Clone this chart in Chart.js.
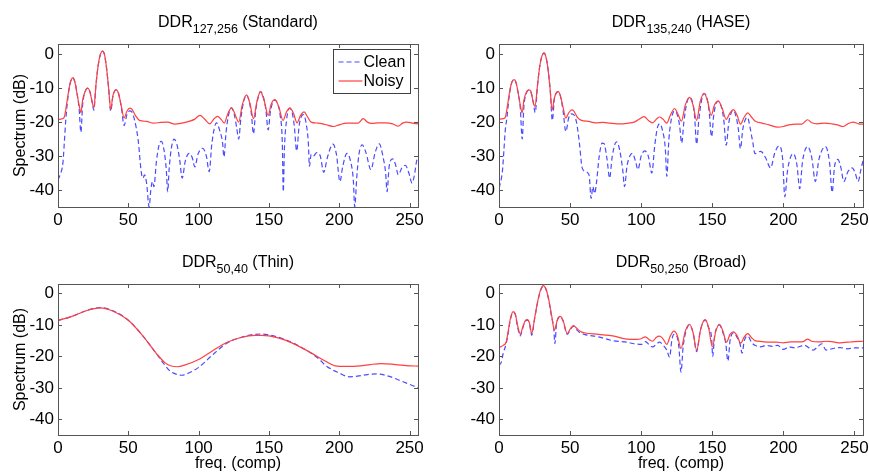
<!DOCTYPE html>
<html>
<head>
<meta charset="utf-8">
<script src="https://cdn.jsdelivr.net/npm/chart.js@4.4.0/dist/chart.umd.min.js"></script>
<style>
  html, body { margin: 0; padding: 0; background: #fff; }
  #wrap { position: relative; width: 869px; height: 473px; overflow: hidden; }
  .cell { position: absolute; }
</style>
</head>
<body>
<div id="wrap">
  <div class="cell" style="left:0;top:0;width:430px;height:240px"><canvas id="cStd"></canvas></div>
  <div class="cell" style="left:430px;top:0;width:439px;height:240px"><canvas id="cHase"></canvas></div>
  <div class="cell" style="left:0;top:240px;width:430px;height:233px"><canvas id="cThin"></canvas></div>
  <div class="cell" style="left:430px;top:240px;width:439px;height:233px"><canvas id="cBroad"></canvas></div>
</div>
<script>
const X_TICKS = [0, 50, 100, 150, 200, 250];
const Y_TICKS = [0, -10, -20, -30, -40];
const SERIES_NAMES = ["Clean", "Noisy"];
const X_LABEL = "freq. (comp)";
const Y_LABEL = "Spectrum (dB)";

const TITLE_STD = ["DDR", "127,256", " (Standard)"];
const TITLE_HASE = ["DDR", "135,240", " (HASE)"];
const TITLE_THIN = ["DDR", "50,40", " (Thin)"];
const TITLE_BROAD = ["DDR", "50,250", " (Broad)"];

// [freq, dB]
const stdClean = [[0,-37],[1.5,-35.5],[3.5,-32],[4.5,-26],[5.5,-19.5],[7,-13],[8.5,-8.8],[10.5,-7],[12,-8.2],[13.5,-11.5],[15,-16],[16.3,-23],[17.5,-15],[19.5,-10.8],[21,-10],[22.5,-10.8],[24,-13.5],[25.5,-16.5],[27,-9],[28.5,-3.5],[30,-0.3],[31.5,0.9],[33,0],[34.5,-4],[36,-10],[37.5,-16.8],[39,-12.5],[40.5,-10.7],[41.5,-10.5],[43,-11.5],[45,-15.5],[47,-21],[49,-17.8],[51,-16.7],[52.5,-17],[54.5,-19.5],[57,-25.3],[59.3,-35],[60.5,-36.5],[61.5,-35.5],[63,-38],[64.8,-45],[66,-40],[67.2,-37.5],[68.2,-39],[70,-31.5],[72,-26.5],[73.5,-25.7],[75.5,-28.5],[77,-34],[78,-40.5],[79,-34],[80.5,-28],[82.5,-25],[84.5,-26.5],[86.5,-31],[88.3,-36.5],[90.5,-31.5],[93.2,-29.2],[95.5,-30.5],[97.3,-33.2],[99.5,-29.5],[102.8,-27.7],[105.5,-30],[107.5,-34.6],[109.5,-26],[112.7,-20.2],[115,-22.5],[117,-26],[118,-30.3],[119.5,-23],[121.5,-17.5],[123.4,-15.8],[125.5,-18],[127,-21.5],[128.5,-25],[130,-19],[132,-14],[134,-12],[136,-14],[137.5,-17.5],[139,-23.5],[140.5,-17],[142.5,-12.5],[144,-11],[146,-12.5],[147.7,-16],[149.5,-22.3],[151,-17],[152.7,-14.2],[154.3,-13.5],[156,-14.5],[158,-18],[159.5,-26],[160.2,-40.5],[161,-28],[162.5,-19.5],[164.5,-16],[166,-16.5],[168,-21],[169.7,-28.5],[171.5,-21],[173.5,-18],[174.5,-17.8],[176.5,-20.5],[178,-26],[178.8,-33],[180,-29.5],[181.5,-30],[184,-29],[186.5,-30],[189,-34.8],[191.5,-30.5],[195.5,-26.5],[198,-29.5],[200.5,-37.5],[202.5,-33],[205.5,-29.2],[208,-31.5],[210,-37],[211,-45],[212.5,-36],[214,-29.5],[216.3,-26.7],[219,-29],[222.5,-34],[225.5,-29],[228.5,-26.4],[231,-30],[233,-35],[234,-40.5],[235.5,-33],[238,-30.8],[240,-32.5],[242,-35.5],[244.5,-33.5],[247,-32.7],[249.5,-35],[251.8,-38],[253.5,-35.5],[255,-31.5],[256,-30.6]];
const stdNoisy = [[0,-19.3],[3,-19],[4.5,-18.5],[6,-15],[7.5,-11],[9,-8],[10.5,-7],[12,-8.2],[13.5,-11.5],[15,-15],[16.3,-17.2],[17.5,-13.5],[19.5,-10.8],[21,-10],[22.5,-10.8],[24,-13.5],[25.5,-15.8],[27,-9],[28.5,-3.5],[30,-0.3],[31.5,0.9],[33,0],[34.5,-4],[36,-10],[37.5,-16.3],[39,-12.3],[40.5,-10.7],[41.5,-10.5],[43,-11.5],[45,-15.2],[47,-18.8],[49,-16.8],[51,-15.9],[52.5,-16.2],[55,-18],[58,-19.5],[63,-19.8],[68,-20.3],[73,-20.1],[78,-20],[83,-20.6],[88,-20.3],[93,-19.8],[97,-19.2],[101,-18],[104,-19],[108,-20.5],[111,-19],[113.5,-18.3],[116,-19.2],[118.3,-20.3],[120.5,-17.8],[123.4,-15.8],[125.5,-17.3],[128.5,-20],[131,-15],[134,-12],[136.5,-14.5],[139,-19],[141.5,-13.8],[144,-11],[146.5,-13.5],[149.5,-18],[151.5,-14.8],[154.3,-13.4],[157,-15.5],[160,-19.5],[162.5,-17],[165,-15.8],[167.5,-17.5],[170,-20.2],[172.5,-18],[175,-17],[177.5,-18.5],[180,-20],[185,-20.3],[190,-20.7],[196,-21.3],[200,-20.8],[205,-20.3],[210,-20.3],[213.5,-20.3],[217,-19],[220,-20],[223,-20.4],[228,-20.2],[233,-20.2],[238,-20.5],[242,-21.2],[245,-20.3],[248,-20],[252,-20.3],[256,-20.5]];

const haseClean = [[0,-39.4],[1.5,-37],[2.5,-34],[3.5,-28],[4.5,-22],[5.5,-19],[7,-13],[8.5,-9],[10.6,-7.5],[12,-8.5],[13.5,-11.5],[15,-16],[16.3,-25],[17.5,-15.5],[19.5,-11.2],[21,-10.6],[22.5,-11.2],[24,-14],[25.5,-17.2],[27,-9.5],[28.5,-4],[30,-0.8],[31.7,0.3],[33,-0.8],[34.5,-4.5],[36,-10.5],[37.5,-19.5],[39,-13],[40.5,-11.3],[41.7,-11],[43,-12],[45,-16.5],[47,-22.8],[49,-18.8],[51,-17.6],[52.5,-17.8],[54.5,-20],[56.5,-26],[58.5,-33.5],[60.5,-34.5],[62.5,-35],[63.5,-36],[64.8,-42.5],[66,-39],[67.3,-41],[68.5,-38],[70.5,-30],[72.5,-26.2],[73.8,-26.3],[76,-31],[77.8,-36.5],[79.5,-30.5],[81.5,-26.5],[82.8,-25.8],[85,-28.5],[87,-34],[88.3,-39],[90,-33],[92,-30],[93.8,-29.2],[96,-31.5],[97.7,-34],[100,-30],[102.5,-28.5],[105,-30],[107.5,-35],[109.5,-27],[111.5,-21.5],[113,-20.5],[115,-22.5],[117,-28],[118,-36],[119.5,-25],[121.5,-18.5],[123.5,-16.7],[125.5,-18],[127,-21],[128.5,-26.2],[130,-20],[132,-14.5],[134,-12.7],[136,-14],[137.5,-18],[139,-26.5],[140.5,-19.5],[142.5,-13.5],[144.2,-11.6],[146,-12.5],[147.7,-16.5],[149.5,-24.3],[151,-18],[152.7,-14.5],[154.3,-13.8],[156,-15],[158,-19],[159.8,-26.8],[161.5,-20.5],[163.5,-17],[164.8,-16.5],[166.5,-18],[168.3,-22],[169.8,-27.8],[171.5,-22],[173.5,-19],[174.8,-18.6],[176.5,-21.5],[178.5,-26],[180,-29.3],[184,-28.6],[187.5,-30.5],[191,-33.5],[194,-29],[197,-27],[199.5,-31],[201,-42],[203,-34],[207,-29.3],[209.5,-32.5],[211.5,-39.6],[213.5,-31.5],[217,-27.2],[220,-30.5],[222.5,-37.5],[225,-31],[229.6,-27.2],[232.5,-32],[234.3,-40.7],[236,-33],[238.3,-31],[240.5,-33.5],[242.5,-37.5],[245.5,-34.5],[248.4,-33.5],[250.5,-35],[252.6,-37.5],[254.5,-34],[256,-31.4]];
const haseNoisy = [[0,-19.1],[3,-19],[4.5,-18.5],[6,-15],[7.5,-11],[9,-8.3],[10.6,-7.5],[12,-8.3],[13.5,-11.5],[15,-15],[16.3,-17.3],[17.5,-13.5],[19.5,-11],[21,-10.5],[22.5,-11],[24,-14],[25.3,-15.4],[27,-9.5],[28.5,-4],[30,-0.8],[31.7,0.4],[33,-0.8],[34.5,-4.5],[36,-10.5],[37.3,-16.4],[39,-12.8],[40.5,-11.3],[41.7,-11],[43,-12],[45,-15.5],[47,-18.8],[49,-17.3],[51,-16.4],[52.5,-16.7],[55,-18.5],[58,-19.5],[63,-19.8],[68,-20.2],[73,-20.1],[78,-20.3],[83,-20.5],[87,-20.5],[91,-20.3],[95,-20],[98,-19.3],[102,-18.4],[105,-19.5],[108,-20.2],[111,-19],[113,-18.5],[115.5,-19.2],[118,-20.3],[120.5,-18],[123.5,-16],[125.5,-17.3],[128.3,-19.7],[131,-15],[134,-12.7],[136.5,-15],[139,-19.5],[141.5,-14],[144.2,-11.5],[146.5,-13.5],[149.3,-18],[151.5,-15],[154.3,-13.8],[157,-16],[159.8,-19.2],[162.5,-17.3],[164.8,-16.3],[167.5,-18],[169.8,-20.6],[172.5,-18.5],[175,-17.3],[177.5,-18.5],[180,-19.7],[185,-20.3],[190,-20.8],[196,-21.5],[200,-21.3],[204,-20.8],[209,-20.6],[213,-20.6],[217,-19.3],[220,-20.2],[224,-20.5],[229,-20.3],[234,-20.5],[238,-20.8],[242,-21.3],[245,-20.6],[249,-20],[253,-20.5],[256,-20.6]];

const thinClean = [[0,-8.6],[10,-7.3],[20,-5.5],[30,-4.5],[40,-5.7],[50,-8.5],[60,-13.3],[70,-19.2],[76,-22.8],[80,-24.8],[85,-25.8],[88,-26],[92,-25.5],[100,-23.5],[110,-19.5],[120,-15.8],[130,-14],[140,-13],[145,-12.9],[150,-13.2],[160,-14.4],[170,-16.4],[180,-19],[186,-21],[190,-22.8],[200,-25.3],[207,-26.5],[213,-26.3],[220,-25.8],[227,-25.6],[235,-26.3],[245,-28],[256,-30]];
const thinNoisy = [[0,-8.6],[10,-7.3],[20,-5.5],[30,-4.6],[40,-5.8],[50,-8.5],[60,-13.3],[70,-19.1],[76,-22],[80,-23],[85,-23.3],[90,-22.8],[100,-21],[110,-18.2],[120,-15.6],[130,-14],[140,-13.3],[145,-13.3],[150,-13.5],[160,-14.6],[170,-16.5],[180,-18.9],[190,-21.5],[197,-23],[205,-23.2],[215,-23],[222,-22.6],[230,-22.3],[240,-22.6],[250,-23],[256,-23.1]];

const broadClean = [[0,-22.8],[1.5,-22],[3,-19],[5,-16],[6.5,-12.5],[8,-8.3],[10,-6],[11.5,-6.8],[13,-10.5],[15,-13.5],[16.5,-11.3],[18.5,-8.8],[20,-8.5],[21.5,-9.8],[23,-13.3],[25,-8.2],[27,-3.2],[29,0.6],[31,2.3],[33,1.3],[35,-2.2],[37,-7.5],[38.5,-11],[39.3,-16],[40.5,-9.5],[43,-7.4],[45,-8.7],[48,-13],[50.5,-11.2],[52.5,-10.4],[54.5,-11.5],[57,-12.5],[60,-13],[70,-13.8],[80,-15],[90,-15.5],[95,-16],[100,-16.2],[103,-15.3],[106,-16.5],[108,-17],[110.5,-16.2],[113,-15.5],[115.5,-16.5],[118,-18],[120,-20.3],[121.5,-15],[123,-13],[125,-13.5],[126.5,-17],[128,-25],[129.5,-17],[131.5,-12],[134,-10],[136.5,-12.5],[139,-18.5],[141.5,-12],[145,-8.5],[147.5,-11],[149.5,-14],[150.3,-20],[151.5,-14],[153,-11],[155,-10],[157.5,-12.5],[159.5,-16],[161,-21.5],[162.5,-15],[165,-12.5],[167.5,-14],[169.5,-16],[171,-19],[172.5,-15],[175,-13.5],[177.5,-15.5],[180,-16.5],[184,-17],[188,-16.5],[192,-16.8],[196,-16.5],[200,-17.8],[204,-17],[208,-17.3],[212,-16.8],[215,-16.5],[218,-17.3],[221,-18],[224,-17],[227,-16],[230,-18],[235,-17.5],[240,-17.2],[245,-17.6],[250,-17.3],[256,-17.3]];
const broadNoisy = [[0,-17.2],[3,-16.5],[5,-15.5],[6.5,-12],[8,-8],[10,-5.8],[11.5,-6.5],[13,-10],[15,-13],[16.5,-11],[18.5,-8.6],[20,-8.3],[21.5,-9.5],[23,-12.7],[25,-8],[27,-3],[29,0.8],[31,2.5],[33,1.5],[35,-2],[37,-7],[39,-11.7],[41,-8.5],[43,-7.3],[45,-8.5],[48,-12.7],[50.5,-11],[52.5,-10.2],[54.5,-11],[57,-12],[60,-12.5],[70,-13],[80,-13.5],[90,-14.5],[97,-14.6],[100,-14.4],[103,-13.8],[106,-14.8],[108,-15.2],[110.5,-14],[113,-13.6],[115.5,-14.5],[118,-16.2],[120.5,-13.5],[123,-12],[125.5,-13.5],[128,-17.5],[131,-12],[134,-9.8],[136.5,-12.5],[139,-18],[142,-11],[145,-8.3],[147.5,-11],[150,-17],[152.5,-12],[155,-9.8],[157.5,-12],[160,-15.5],[162.5,-13],[165,-12.2],[167.5,-13.5],[170,-15.8],[172.5,-13.8],[175,-12.8],[177.5,-14],[180,-15],[185,-15.3],[190,-15.5],[195,-15.5],[200,-15.7],[205,-15.4],[210,-15.4],[214,-15.3],[217,-14.5],[220,-15.2],[225,-15.4],[230,-15.2],[235,-15.4],[240,-15.7],[245,-15.5],[250,-15.3],[256,-15.2]];

const FONT = '"Liberation Sans", Arial, Helvetica, sans-serif';
const CLEAN_COLOR = "#4b4bff";
const NOISY_COLOR = "#ff4040";
const AXIS_COLOR = "#555555";

// box around the plot with inward ticks on all four sides (matlab look)
const matlabFrame = {
  id: "matlabFrame",
  afterDraw(chart) {
    const { ctx, chartArea: a, scales } = chart;
    const tl = 4;
    ctx.save();
    ctx.strokeStyle = AXIS_COLOR;
    ctx.lineWidth = 1;
    ctx.beginPath();
    for (const t of scales.x.ticks) {
      const px = Math.round(scales.x.getPixelForValue(t.value)) + 0.5;
      ctx.moveTo(px, a.bottom); ctx.lineTo(px, a.bottom - tl);
      ctx.moveTo(px, a.top); ctx.lineTo(px, a.top + tl);
    }
    for (const t of scales.y.ticks) {
      const py = Math.round(scales.y.getPixelForValue(t.value)) + 0.5;
      ctx.moveTo(a.left, py); ctx.lineTo(a.left + tl, py);
      ctx.moveTo(a.right, py); ctx.lineTo(a.right - tl, py);
    }
    ctx.stroke();
    ctx.strokeRect(Math.round(a.left) + 0.5, Math.round(a.top) + 0.5,
      Math.round(a.right - a.left), Math.round(a.bottom - a.top));
    ctx.restore();
  }
};

// title with a subscript, e.g. DDR_{127,256} (Standard)
const panelTitle = {
  id: "panelTitle",
  afterDraw(chart, args, o) {
    const { ctx, chartArea: a } = chart;
    const [main, sub, rest] = o.parts;
    const big = "16px " + FONT, small = "12.5px " + FONT;
    ctx.save();
    ctx.fillStyle = "#000";
    ctx.textAlign = "left";
    ctx.textBaseline = "alphabetic";
    ctx.font = big;
    const w1 = ctx.measureText(main).width, w3 = ctx.measureText(rest).width;
    ctx.font = small;
    const w2 = ctx.measureText(sub).width;
    let x = (a.left + a.right) / 2 - (w1 + w2 + w3) / 2;
    const y = 26.5;
    ctx.font = big; ctx.fillText(main, x, y); x += w1;
    ctx.font = small; ctx.fillText(sub, x, y + 6); x += w2;
    ctx.font = big; ctx.fillText(rest, x, y);
    ctx.restore();
  }
};

// legend box inside the upper right corner of the plot
const insideLegend = {
  id: "insideLegend",
  afterDraw(chart, args, o) {
    if (!o.show) return;
    const { ctx, chartArea: a } = chart;
    const bx = Math.round(a.right - 85) + 0.5, by = Math.round(a.top + 5) + 0.5;
    ctx.save();
    ctx.fillStyle = "#fff";
    ctx.fillRect(bx, by, 77, 44);
    ctx.strokeStyle = "#404040";
    ctx.lineWidth = 1;
    ctx.strokeRect(bx, by, 77, 44);
    ctx.font = "16px " + FONT;
    ctx.textBaseline = "middle";
    ctx.fillStyle = "#000";
    chart.data.datasets.forEach((ds, i) => {
      const cy = Math.round(by + 12 + i * 19);
      ctx.strokeStyle = ds.borderColor;
      ctx.lineWidth = ds.borderWidth;
      ctx.setLineDash(ds.borderDash || []);
      ctx.beginPath();
      ctx.moveTo(bx + 5, cy); ctx.lineTo(bx + 29, cy);
      ctx.stroke();
      ctx.setLineDash([]);
      ctx.fillText(ds.label, bx + 30, cy + 1);
    });
    ctx.restore();
  }
};

function makePanel(id, titleParts, clean, noisy, opt) {
  const tickFont = { family: FONT, size: 17 };
  const labelFont = { family: FONT, size: 16, lineHeight: 1.2 };
  return new Chart(document.getElementById(id), {
    type: "line",
    data: {
      datasets: [
        { label: SERIES_NAMES[0], data: clean, borderColor: CLEAN_COLOR, borderDash: [5, 3],
          borderWidth: 1.2, pointRadius: 0, cubicInterpolationMode: "monotone", order: 1 },
        { label: SERIES_NAMES[1], data: noisy, borderColor: NOISY_COLOR,
          borderWidth: 1.2, pointRadius: 0, cubicInterpolationMode: "monotone", order: 0 }
      ]
    },
    options: {
      responsive: true,
      maintainAspectRatio: false,
      animation: false,
      events: [],
      layout: { padding: { top: 44, right: opt.padRight, left: 0, bottom: 0 } },
      plugins: {
        legend: { display: false },
        tooltip: { enabled: false },
        panelTitle: { parts: titleParts },
        insideLegend: { show: !!opt.legend }
      },
      scales: {
        x: {
          type: "linear", min: 0, max: 256,
          grid: { display: false, drawTicks: false },
          border: { display: false },
          ticks: { font: tickFont, color: "#000", padding: 3, maxRotation: 0 },
          afterBuildTicks: s => { s.ticks = X_TICKS.map(v => ({ value: v })); },
          afterFit: s => { s.height = opt.xHeight; s.paddingLeft = 0; s.paddingRight = 0; },
          title: { display: !!opt.xTitle, text: X_LABEL, font: labelFont, color: "#000", padding: { top: 0, bottom: 0 } }
        },
        y: {
          min: -45, max: 3,
          grid: { display: false, drawTicks: false },
          border: { display: false },
          ticks: { font: tickFont, color: "#000", padding: 4 },
          afterBuildTicks: s => { s.ticks = Y_TICKS.map(v => ({ value: v })); },
          afterFit: s => { s.width = opt.yWidth; s.paddingTop = 0; s.paddingBottom = 0; },
          title: { display: !!opt.yTitle, text: Y_LABEL, font: labelFont, color: "#000", padding: { top: 11, bottom: 0 } }
        }
      }
    },
    plugins: [matlabFrame, panelTitle, insideLegend]
  });
}

makePanel("cStd", TITLE_STD, stdClean, stdNoisy, { padRight: 12, yWidth: 58, xHeight: 33, yTitle: true, legend: true });
makePanel("cHase", TITLE_HASE, haseClean, haseNoisy, { padRight: 6, yWidth: 69, xHeight: 33 });
makePanel("cThin", TITLE_THIN, thinClean, thinNoisy, { padRight: 12, yWidth: 58, xHeight: 38, yTitle: true, xTitle: true });
makePanel("cBroad", TITLE_BROAD, broadClean, broadNoisy, { padRight: 6, yWidth: 69, xHeight: 38, xTitle: true });
</script>
</body>
</html>
